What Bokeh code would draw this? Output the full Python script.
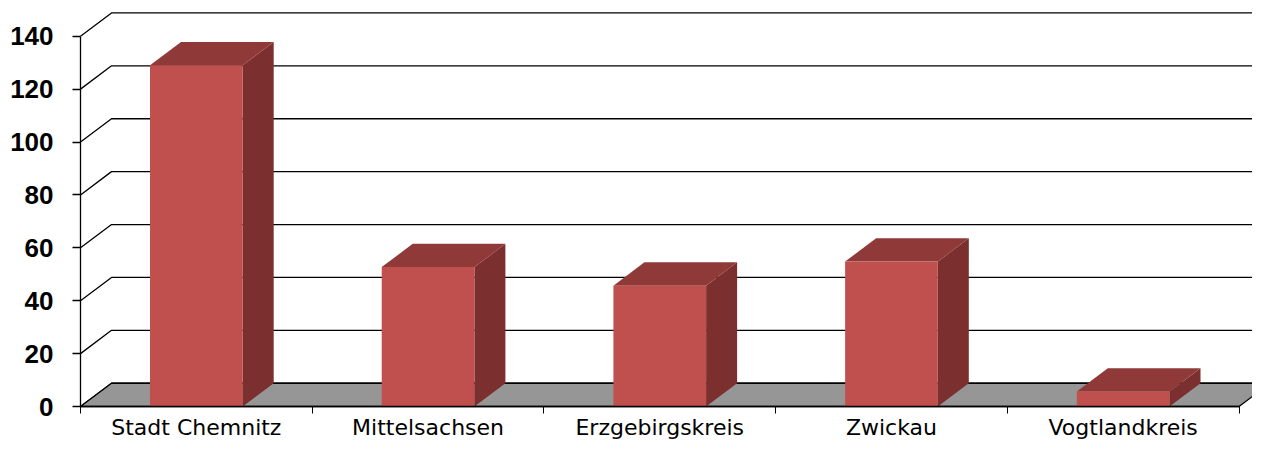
from bokeh.plotting import figure
from bokeh.models import Range1d, LinearAxis, FixedTicker
from bokeh.embed import file_html
from bokeh.resources import INLINE

# ---- data ----
categories = ["Stadt Chemnitz", "Mittelsachsen", "Erzgebirgskreis", "Zwickau", "Vogtlandkreis"]
values = [129, 52.7, 45.7, 54.8, 5.7]
y_ticks = [0, 20, 40, 60, 80, 100, 120, 140]

# ---- 3D styling parameters ----
DX = 0.1338   # depth offset (category units)
DY = 8.8      # depth offset (value units)
BAR_W = 0.4
FRONT = "#C0504D"
TOP = "#8F3A38"
SIDE = "#7B2F2E"
FLOOR = "#969696"

p = figure(width=1252, height=441, output_backend="svg", toolbar_location=None,
           x_range=Range1d(-0.3453, 5.0582), y_range=Range1d(-13.23, 153.5),
           min_border=0, x_axis_location=None, y_axis_location=None)
p.outline_line_color = None
p.background_fill_color = "white"
p.border_fill_color = "white"
p.grid.grid_line_color = None

n = len(categories)
x_far = n + DX + 0.5

# back wall gridlines + side diagonals
gx, gy = [], []
for t in y_ticks:
    gx.append([0, DX, x_far])
    gy.append([t, t + DY, t + DY])
p.multi_line(gx, gy, line_color="black", line_width=1.3)

# floor
p.patch([0, n, n + DX, DX], [0, 0, DY, DY], fill_color=FLOOR,
        line_color="black", line_width=1.3)

left = [i + 0.5 - BAR_W / 2 for i in range(n)]
right = [i + 0.5 + BAR_W / 2 for i in range(n)]

side_xs = [[r, r + DX, r + DX, r] for r in right]
side_ys = [[0, DY, v + DY, v] for v in values]
p.patches(side_xs, side_ys, fill_color=SIDE, line_color=None)

top_xs = [[l, r, r + DX, l + DX] for l, r in zip(left, right)]
top_ys = [[v, v, v + DY, v + DY] for v in values]
p.patches(top_xs, top_ys, fill_color=TOP, line_color=None)

p.quad(left=left, right=right, bottom=0, top=values, fill_color=FRONT, line_color=None)

# y axis on the front plane
yaxis = LinearAxis(fixed_location=0,
                   ticker=FixedTicker(ticks=y_ticks, minor_ticks=[]),
                   bounds=(0, 140),
                   major_tick_out=8, major_tick_in=0,
                   minor_tick_out=0, minor_tick_in=0,
                   major_label_standoff=19,
                   major_label_text_font="Liberation Sans",
                   major_label_text_font_style="bold",
                   major_label_text_font_size="26px",
                   major_label_text_color="black",
                   axis_line_color="black", axis_line_width=1.3,
                   major_tick_line_color="black", major_tick_line_width=1.3)
p.add_layout(yaxis, "left")

# x axis (category labels at centres, ticks at boundaries)
centers = [i + 0.5 for i in range(n)]
xaxis = LinearAxis(fixed_location=0,
                   ticker=FixedTicker(ticks=centers, minor_ticks=list(range(n + 1))),
                   bounds=(0, n),
                   major_tick_out=0, major_tick_in=0,
                   minor_tick_out=7, minor_tick_in=0,
                   major_label_overrides={c: lab for c, lab in zip(centers, categories)},
                   major_label_standoff=1,
                   major_label_text_font="DejaVu Sans",
                   major_label_text_font_size="22px",
                   major_label_text_color="black",
                   axis_line_color="black", axis_line_width=1.3,
                   minor_tick_line_color="black", minor_tick_line_width=1)
p.add_layout(xaxis, "below")

open("out.html", "w").write(file_html(p, INLINE))
